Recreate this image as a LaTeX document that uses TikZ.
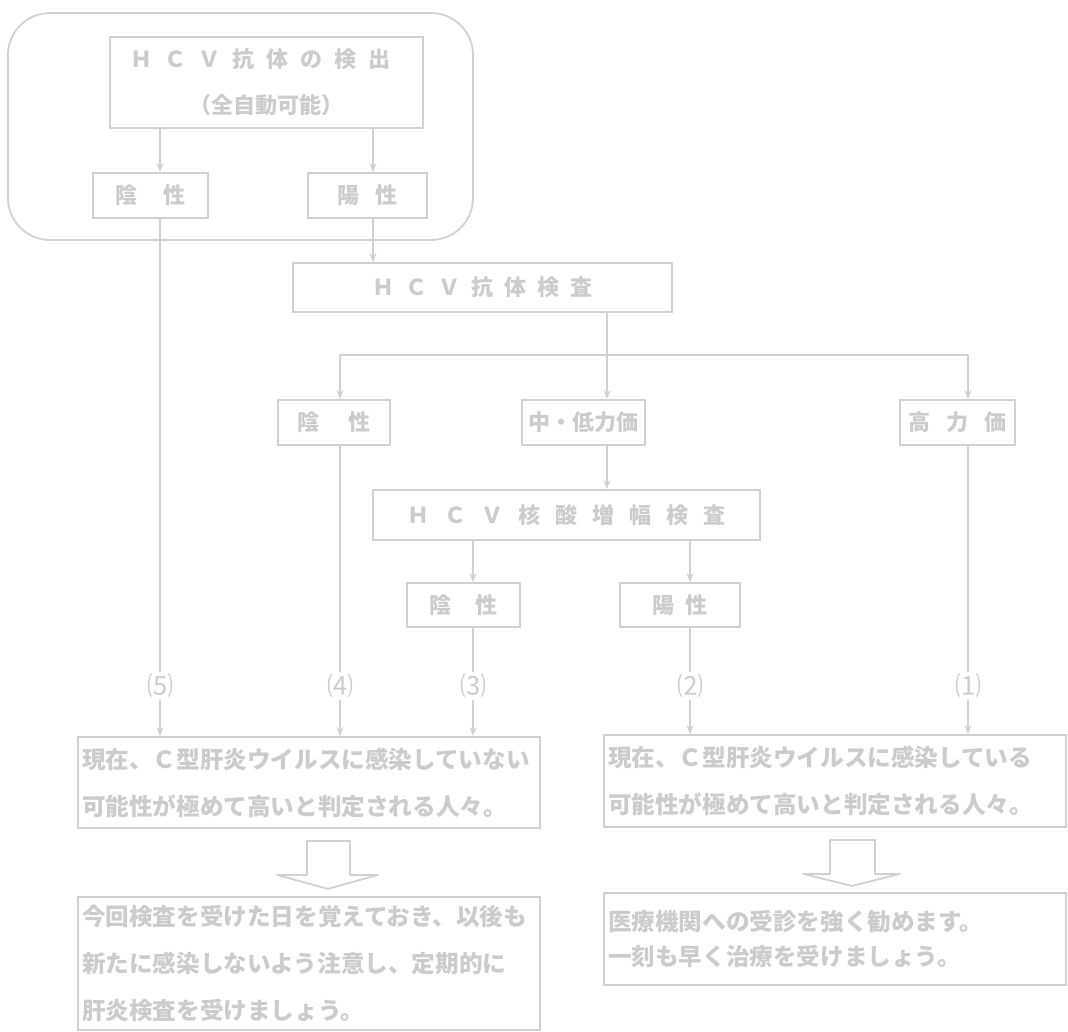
\documentclass[tikz,border=0pt]{standalone}
\usepackage{fontspec}
\setmainfont{Noto Sans CJK JP}
\usetikzlibrary{arrows.meta,calc}
\ExplSyntaxOn
\NewDocumentCommand\spread{mm}{\tl_map_inline:nn{#2}{##1\hspace{#1}}\hspace{-#1}}
\ExplSyntaxOff
\definecolor{lc}{gray}{0.82}
\definecolor{tc}{gray}{0.80}
\tikzset{
  box/.style={draw=lc, line width=1.8pt, inner sep=0pt, text=tc, align=center,
    font=\fontsize{22}{46}\selectfont\bfseries},
  txtbox/.style={draw=lc, line width=1.8pt, inner xsep=4pt, inner ysep=0pt, text=tc,
    align=left, text width=454pt, font=\fontsize{23.6}{47}\selectfont\bfseries},
  arr/.style={draw=lc, line width=1.8pt, -{Stealth[length=9pt,width=7pt]}},
  ln/.style={draw=lc, line width=1.8pt},
  lab/.style={text=tc, inner sep=2pt, font=\fontsize{26}{28}\selectfont}
}
\begin{document}
\begin{tikzpicture}[x=1pt,y=-1pt]
\useasboundingbox (0,0) rectangle (1068,1032);
\fill[white] (0,0) rectangle (1068,1032);

% outer rounded region
\draw[ln, rounded corners=42pt] (8,13) rectangle (473,240);

% top group
\node[box, minimum width=313, minimum height=91] (top) at (266.5,82.5)
  {\spread{12pt}{ＨＣＶ抗体の検出}\\（全自動可能）};
\node[box, minimum width=115, minimum height=45] (neg1) at (150.5,195.5) {\spread{26pt}{陰性}};
\node[box, minimum width=119, minimum height=45] (pos1) at (367.5,195.5) {\spread{16pt}{陽性}};

\coordinate (xA) at (160,0);
\coordinate (xB) at (373,0);
\draw[arr] (top.south -| xA) -- (neg1.north -| xA);
\draw[arr] (top.south -| xB) -- (pos1.north -| xB);

% antibody titre test
\node[box, minimum width=379, minimum height=49] (ab) at (482.5,287.5) {\spread{11pt}{ＨＣＶ抗体検査}};
\draw[arr] (pos1.south -| xB) -- (ab.north -| xB);

\node[box, minimum width=112, minimum height=45] (neg2) at (334,422.5) {\spread{30pt}{陰性}};
\node[box, minimum width=123, minimum height=45] (mid) at (583.5,422.5) {中・低力価};
\node[box, minimum width=115, minimum height=45] (high) at (957.5,422.5) {\spread{16pt}{高力価}};

\coordinate (xD) at (607,0);
\coordinate (jL) at (340,355);
\coordinate (jR) at (968,355);
\draw[ln] (jL) -- (jR);
\draw[arr] (ab.south -| xD) -- (mid.north -| xD);
\draw[arr] (jL) -- (neg2.north -| jL);
\draw[arr] (jR) -- (high.north -| jR);

% NAT
\node[box, minimum width=387, minimum height=50] (nat) at (566.5,515) {\spread{15pt}{ＨＣＶ核酸増幅検査}};
\draw[arr] (mid.south -| xD) -- (nat.north -| xD);

\node[box, minimum width=113, minimum height=44] (neg3) at (463.5,605) {\spread{24pt}{陰性}};
\node[box, minimum width=120, minimum height=44] (pos3) at (680,605) {\spread{12pt}{陽性}};
\coordinate (xF) at (473,0);
\coordinate (xG) at (690,0);
\draw[arr] (nat.south -| xF) -- (neg3.north -| xF);
\draw[arr] (nat.south -| xG) -- (pos3.north -| xG);

% result boxes
\node[txtbox, minimum height=91] (resL) at (309,782.5)
  {現在、Ｃ型肝炎ウイルスに感染していない\\可能性が極めて高いと判定される人々。};
\node[txtbox, minimum height=92] (resR) at (835,781)
  {現在、Ｃ型肝炎ウイルスに感染している\\可能性が極めて高いと判定される人々。};

% labels on the lines
\node[lab] (l5) at (160,686) {⑸};
\node[lab] (l4) at (340,686) {⑷};
\node[lab] (l3) at (473,686) {⑶};
\node[lab] (l2) at (690,686) {⑵};
\node[lab] (l1) at (968,686) {⑴};

\draw[ln] (neg1.south -| l5) -- (l5.north);
\draw[arr] (l5.south) -- (resL.north -| l5);
\draw[ln] (neg2.south -| l4) -- (l4.north);
\draw[arr] (l4.south) -- (resL.north -| l4);
\draw[ln] (neg3.south -| l3) -- (l3.north);
\draw[arr] (l3.south) -- (resL.north -| l3);
\draw[ln] (pos3.south -| l2) -- (l2.north);
\draw[arr] (l2.south) -- (resR.north -| l2);
\draw[ln] (high.south -| l1) -- (l1.north);
\draw[arr] (l1.south) -- (resR.north -| l1);

% advice boxes
\node[txtbox, minimum height=133] (advL) at (309,963.5)
  {今回検査を受けた日を覚えておき、以後も\\新たに感染しないよう注意し、定期的に\\肝炎検査を受けましょう。};
\node[txtbox, minimum height=92, font=\fontsize{23.6}{35}\selectfont\bfseries] (advR) at (835,939)
  {医療機関への受診を強く勧めます。\\一刻も早く治療を受けましょう。};

% hollow block arrows
\coordinate (bL) at (328,0);
\coordinate (bR) at (852,0);
\coordinate (tL) at ($(resL.south -| bL)+(0,12)$);
\coordinate (tR) at ($(resR.south -| bR)+(0,12)$);
\draw[ln, line join=round] ($(tL)+(-21,0)$) -- ($(tL)+(-21,34)$) -- ($(tL)+(-51,34)$)
  -- ($(tL)+(0,48)$) -- ($(tL)+(50,34)$) -- ($(tL)+(22,34)$) -- ($(tL)+(22,0)$) -- cycle;
\draw[ln, line join=round] ($(tR)+(-22,0)$) -- ($(tR)+(-22,34)$) -- ($(tR)+(-49,34)$)
  -- ($(tR)+(0,46)$) -- ($(tR)+(48,34)$) -- ($(tR)+(23,34)$) -- ($(tR)+(23,0)$) -- cycle;
\end{tikzpicture}
\end{document}
